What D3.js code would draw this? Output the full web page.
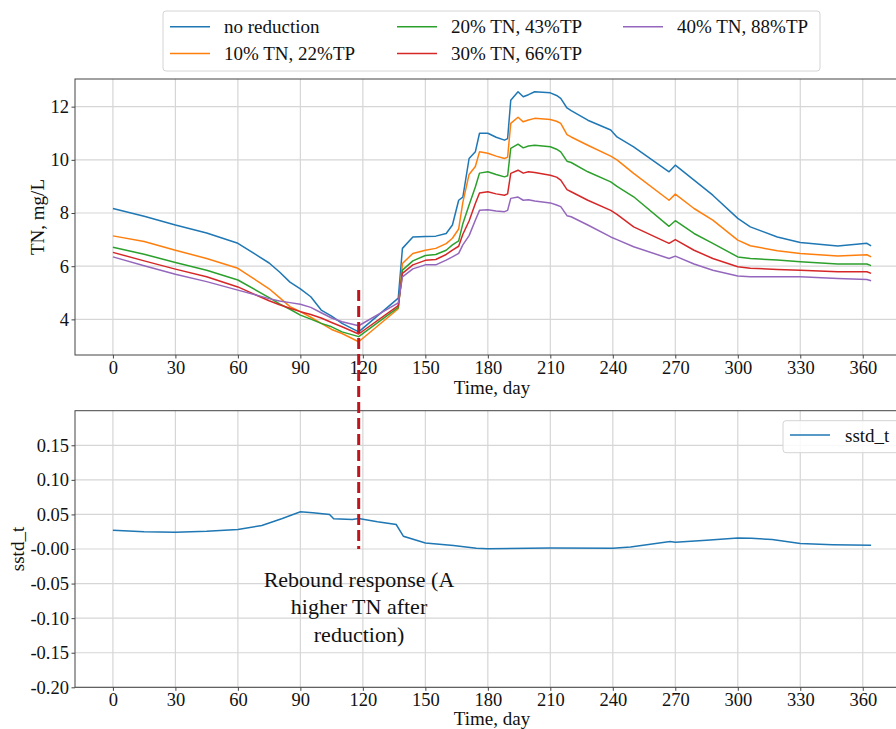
<!DOCTYPE html>
<html><head><meta charset="utf-8">
<script src="https://cdn.jsdelivr.net/npm/d3@7"></script>
<style>body{margin:0;background:#fff}svg{display:block;font-family:"Liberation Serif","Times New Roman",serif}</style>
</head><body>
<svg id="c" width="896" height="729"></svg>
<script>
const days = [0,15,30,45,60,75,80,85,90,95,100,105,110,118,137,139,144,150,155,160,163,166,168,171,174,176,180,184,188,189.5,191,194.5,197,199.5,202.5,210,213,215,218,220,228,239,242,250,267,270,279,288,300,306,319,330,348,362,364];
const noReduction = [8.17,7.88,7.55,7.25,6.86,6.12,5.78,5.40,5.15,4.85,4.35,4.12,3.85,3.53,4.80,6.67,7.10,7.12,7.13,7.23,7.55,8.48,8.60,10.05,10.30,11.00,11.00,10.85,10.74,10.80,12.24,12.56,12.37,12.45,12.56,12.52,12.42,12.31,11.95,11.85,11.49,11.12,10.86,10.49,9.55,9.80,9.24,8.67,7.80,7.48,7.10,6.89,6.76,6.86,6.76];
const red10 = [7.14,6.93,6.60,6.29,5.92,5.15,4.82,4.48,4.29,4.08,3.85,3.62,3.47,3.16,4.40,6.10,6.48,6.60,6.67,6.85,7.05,7.40,8.40,9.45,9.75,10.30,10.25,10.14,10.05,10.10,11.37,11.60,11.43,11.50,11.56,11.52,11.45,11.37,10.95,10.86,10.55,10.14,10.00,9.49,8.48,8.71,8.17,7.73,6.98,6.77,6.58,6.48,6.38,6.43,6.35];
const red20 = [6.71,6.45,6.14,5.85,5.48,4.82,4.58,4.38,4.16,4.01,3.85,3.72,3.53,3.35,4.45,5.85,6.20,6.40,6.44,6.60,6.80,6.95,7.60,8.30,8.98,9.50,9.55,9.45,9.36,9.40,10.43,10.59,10.45,10.52,10.55,10.49,10.40,10.30,9.95,9.90,9.55,9.17,9.00,8.61,7.50,7.71,7.23,6.86,6.35,6.29,6.23,6.17,6.08,6.08,6.02];
const red30 = [6.52,6.20,5.89,5.60,5.22,4.70,4.55,4.42,4.29,4.18,4.05,3.88,3.72,3.45,4.52,5.73,6.05,6.22,6.25,6.44,6.60,6.75,7.20,7.70,8.36,8.75,8.80,8.72,8.67,8.72,9.49,9.61,9.50,9.55,9.52,9.42,9.35,9.24,8.88,8.80,8.48,8.10,7.95,7.48,6.86,7.00,6.60,6.29,5.98,5.92,5.88,5.85,5.79,5.79,5.73];
const red40 = [6.35,6.02,5.70,5.42,5.10,4.78,4.69,4.63,4.57,4.45,4.25,4.05,3.91,3.76,4.62,5.60,5.90,6.05,6.05,6.23,6.35,6.48,6.80,7.15,7.73,8.10,8.12,8.08,8.05,8.10,8.55,8.60,8.48,8.50,8.45,8.38,8.30,8.24,7.90,7.86,7.55,7.10,7.00,6.73,6.29,6.38,6.08,5.85,5.63,5.60,5.60,5.60,5.54,5.50,5.45];
const seriesNames = ["no reduction","10% TN, 22%TP","20% TN, 43%TP","30% TN, 66%TP","40% TN, 88%TP"];
const seriesColors = ["#1f77b4","#ff7f0e","#2ca02c","#d62728","#9467bd"];
const sstdDays = [0,15,30,45,60,71.5,81,90,96,104,106,115,118,127,136,139.5,150,163.5,174.5,180,210,240,248.5,267.5,270,285,300,306.5,316.5,330,345.5,364];
const sstdValues = [0.0272,0.0250,0.0243,0.0255,0.0282,0.034,0.0437,0.0539,0.0524,0.050,0.0437,0.0427,0.0442,0.0393,0.0354,0.0184,0.0087,0.0049,0.001,0.0005,0.0015,0.001,0.003,0.011,0.0097,0.0126,0.016,0.0155,0.0136,0.0078,0.0063,0.0053];
const xTicks = [0,30,60,90,120,150,180,210,240,270,300,330,360];
const tnTicks = [4,6,8,10,12];
const sstdTicks = [-0.20,-0.15,-0.10,-0.05,0.00,0.05,0.10,0.15];
const reboundDay = 118, reboundTop = 5.1;
const annotationLines = ["Rebound response (A","higher TN after","reduction)"];

const svg = d3.select("#c");
const L = 75, R = 909;
const x = d3.scaleLinear().domain([-18.2, 382.2]).range([L, R]);
const yTop = d3.scaleLinear().domain([2.66, 13.04]).range([355, 79]);
const yBot = d3.scaleLinear().domain([-0.2, 0.2]).range([687.3, 410.7]);
const FS = 18.5;

function panel(y, yticks, fmt, xlabelY) {
  const g = svg.append("g");
  const [b, t] = y.range();
  g.selectAll(".vg").data(xTicks).join("line").attr("x1", d=>x(d)).attr("x2", d=>x(d))
    .attr("y1", t).attr("y2", b).attr("stroke", "#d6d6d6").attr("stroke-width", 1.2);
  g.selectAll(".hg").data(yticks).join("line").attr("x1", L).attr("x2", R)
    .attr("y1", d=>y(d)).attr("y2", d=>y(d)).attr("stroke", "#d6d6d6").attr("stroke-width", 1.2);
  const ax = g.append("g").attr("transform", `translate(0,${b})`)
    .call(d3.axisBottom(x).tickValues(xTicks).tickSize(3.5).tickPadding(4).tickFormat(d3.format("d")));
  const ay = g.append("g").attr("transform", `translate(${L},0)`)
    .call(d3.axisLeft(y).tickValues(yticks).tickSize(3.5).tickPadding(2.5).tickFormat(fmt));
  [ax, ay].forEach(a => {
    a.select(".domain").remove();
    a.selectAll("line").attr("stroke", "#444");
    a.selectAll("text").attr("font-size", FS).attr("fill", "#111").attr("font-family", "Liberation Serif");
  });
  ax.selectAll("text").attr("dy", "0.6em");
  g.append("rect").attr("x", L).attr("y", t).attr("width", R - L).attr("height", b - t)
    .attr("fill", "none").attr("stroke", "#444").attr("stroke-width", 1);
  g.append("text").attr("x", (L + R) / 2).attr("y", xlabelY).attr("text-anchor", "middle")
    .attr("font-size", 19).attr("fill", "#111").text("Time, day");
  return g;
}

panel(yTop, tnTicks, d3.format("d"), 394);
panel(yBot, sstdTicks, d => (d === 0 ? "-0.00" : d3.format(".2f")(d).replace("−", "-")), 725);

svg.append("text").attr("transform", `translate(44,217) rotate(-90)`).attr("text-anchor", "middle")
  .attr("font-size", 19).attr("fill", "#111").text("TN, mg/L");
svg.append("text").attr("transform", `translate(24,549) rotate(-90)`).attr("text-anchor", "middle")
  .attr("font-size", 19).attr("fill", "#111").text("sstd_t");

const allSeries = [noReduction, red10, red20, red30, red40];
const lineTop = d3.line().x((d, i) => x(days[i])).y(d => yTop(d));
svg.append("g").selectAll("path").data(allSeries).join("path")
  .attr("d", d => lineTop(d)).attr("fill", "none")
  .attr("stroke", (d, i) => seriesColors[i]).attr("stroke-width", 1.5).attr("stroke-linejoin", "round");

const lineBot = d3.line().x((d, i) => x(sstdDays[i])).y(d => yBot(d));
svg.append("path").attr("d", lineBot(sstdValues)).attr("fill", "none")
  .attr("stroke", "#1f77b4").attr("stroke-width", 1.5);

svg.append("line").attr("x1", x(reboundDay)).attr("x2", x(reboundDay))
  .attr("y1", yTop(reboundTop)).attr("y2", yBot(0))
  .attr("stroke", "#c0141c").attr("stroke-width", 3).attr("stroke-dasharray", "11,5");

svg.append("g").selectAll("text").data(annotationLines).join("text")
  .attr("x", 359).attr("y", (d, i) => 587 + i * 27.3).attr("text-anchor", "middle")
  .attr("font-size", 22).attr("fill", "#111").text(d => d);

const lg = svg.append("g");
lg.append("rect").attr("x", 163).attr("y", 11).attr("width", 657).attr("height", 60).attr("rx", 3)
  .attr("fill", "#fff").attr("fill-opacity", 0.85).attr("stroke", "#d4d4d4");
const colX = [170, 397, 623], rowY = [26.7, 53.5];
seriesNames.forEach((n, i) => {
  const c = Math.floor(i / 2), r = i % 2;
  lg.append("line").attr("x1", colX[c]).attr("x2", colX[c] + 40).attr("y1", rowY[r]).attr("y2", rowY[r])
    .attr("stroke", seriesColors[i]).attr("stroke-width", 1.5);
  lg.append("text").attr("x", colX[c] + 54).attr("y", rowY[r] + 6.5).attr("font-size", 19)
    .attr("fill", "#111").text(n);
});

const bl = svg.append("g");
bl.append("rect").attr("x", 783).attr("y", 420.7).attr("width", 120).attr("height", 32).attr("rx", 3)
  .attr("fill", "#fff").attr("fill-opacity", 0.85).attr("stroke", "#d4d4d4");
bl.append("line").attr("x1", 790).attr("x2", 830).attr("y1", 435).attr("y2", 435)
  .attr("stroke", "#1f77b4").attr("stroke-width", 1.5);
bl.append("text").attr("x", 845).attr("y", 442).attr("font-size", 19).attr("fill", "#111").text("sstd_t");
</script>
</body></html>
